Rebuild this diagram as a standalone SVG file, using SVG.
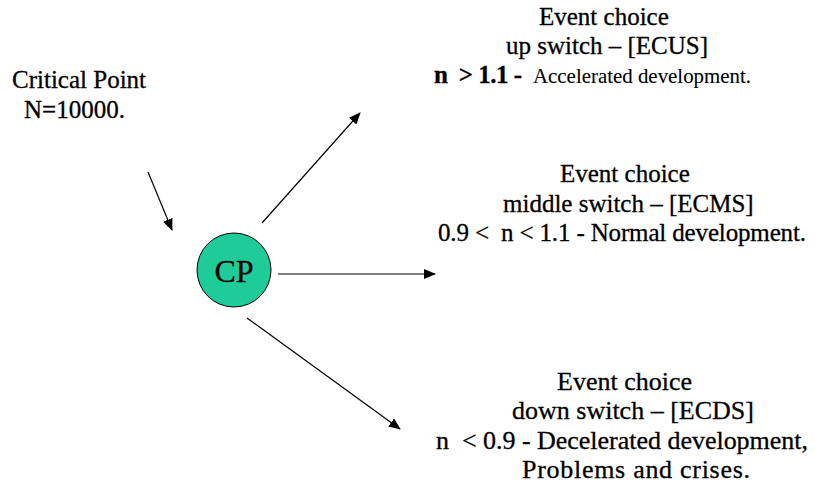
<svg xmlns="http://www.w3.org/2000/svg" width="815" height="490" viewBox="0 0 815 490" font-family="'Liberation Serif', 'Times New Roman', 'DejaVu Serif', serif">
<style>
text{font-family:'Liberation Serif','Times New Roman','DejaVu Serif',serif;fill:#000;stroke:#000;stroke-width:0.3;}
.t{font-size:25px;}
.u{font-size:26px;}
.s{font-size:21px;stroke-width:0.1;}
.b{font-weight:bold;}
.c{stroke:#000;stroke-width:1.2;fill:none;}
</style>
<defs>
<marker id="ah" markerUnits="userSpaceOnUse" markerWidth="12" markerHeight="10" refX="11" refY="5" orient="auto">
<path d="M0,0 L12,5 L0,10 Z" fill="#000"/>
</marker>
</defs>
<rect width="815" height="490" fill="#fff"/>
<g id="connectors">
<line class="c" x1="148" y1="172" x2="172" y2="230" marker-end="url(#ah)"/>
<line class="c" x1="262" y1="223" x2="360" y2="113" marker-end="url(#ah)"/>
<line class="c" x1="278" y1="274" x2="435" y2="274" marker-end="url(#ah)"/>
<line class="c" x1="247" y1="318" x2="400" y2="429" marker-end="url(#ah)"/>
</g>
<g id="critical-point-label">
<text class="t" x="12" y="88">Critical Point</text>
<text class="t" x="24" y="118">N=10000.</text>
</g>
<g id="cp">
<circle cx="234" cy="270" r="37" fill="#1FCC99" stroke="#000" stroke-width="1"/>
<text x="234" y="282" font-size="32" text-anchor="middle">CP</text>
</g>
<g id="ecus">
<text class="t" x="539" y="25">Event choice</text>
<text class="t" x="506" y="54">up switch – [ECUS]</text>
<text class="t b" x="434" y="83" textLength="88">n &#160;&gt; 1.1 -</text>
<text class="s" x="533" y="83" textLength="218" lengthAdjust="spacingAndGlyphs">Accelerated development.</text>
</g>
<g id="ecms">
<text class="t" x="560" y="182">Event choice</text>
<text class="t" x="503" y="212">middle switch – [ECMS]</text>
<text class="t" x="438" y="241" textLength="368">0.9 &lt; &#160;n &lt; 1.1 - Normal development.</text>
</g>
<g id="ecds">
<text class="u" x="557" y="390">Event choice</text>
<text class="u" x="512" y="419">down switch – [ECDS]</text>
<text class="u" x="436" y="449" textLength="372">n &#160;&lt; 0.9 - Decelerated development,</text>
<text class="u" x="522" y="478" textLength="228">Problems and crises.</text>
</g>
</svg>
